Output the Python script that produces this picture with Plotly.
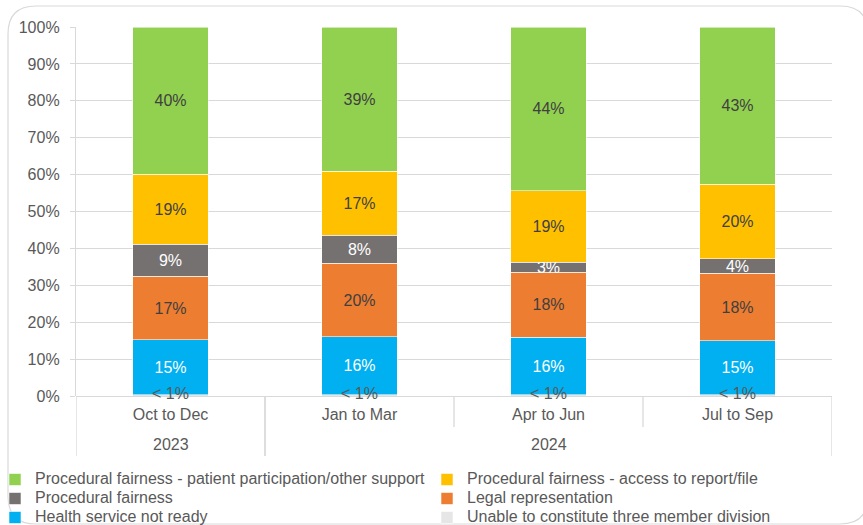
import plotly.graph_objects as go

years = ["2023", "2024", "2024", "2024"]
quarters = ["Oct to Dec", "Jan to Mar", "Apr to Jun", "Jul to Sep"]

unable = [0.3, 0.4, 0.3, 0.3]
health_not_ready = [14.9, 15.6, 15.6, 14.7]
legal_rep = [17.2, 20.0, 17.7, 18.2]
proc_fair = [8.7, 7.6, 2.7, 4.0]
proc_access = [19.0, 17.3, 19.3, 20.2]
proc_patient = [39.9, 39.1, 44.4, 42.6]
unable_label = ["< 1%", "< 1%", "< 1%", "< 1%"]

y_ticks = [0, 10, 20, 30, 40, 50, 60, 70, 80, 90, 100]
y_ticktext = [f"{v}%" for v in y_ticks]

FONT = "Liberation Sans, Arial, sans-serif"
GRID = "#d9d9d9"
TXT = "#595959"
DARK = "#404040"

series = [
    ("Unable to constitute three member division", unable, "#E7E6E6", None, "legend2"),
    ("Health service not ready", health_not_ready, "#00B0F0", "white", "legend"),
    ("Legal representation", legal_rep, "#ED7D31", DARK, "legend2"),
    ("Procedural fairness", proc_fair, "#767171", "white", "legend"),
    ("Procedural fairness - access to report/file", proc_access, "#FFC000", DARK, "legend2"),
    ("Procedural fairness - patient participation/other support", proc_patient, "#92D050", DARK, "legend"),
]

fig = go.Figure()
for name, vals, color, tcol, leg in series:
    kw = {}
    if tcol is not None:
        kw = dict(texttemplate="%{y:.0f}%", textposition="inside",
                  insidetextanchor="middle",
                  textfont=dict(color=tcol, size=16, family=FONT))
    fig.add_trace(go.Bar(
        x=quarters, y=vals,
        name=f"<span style='font-size:16px'>{name}</span>", legend=leg,
        marker=dict(color=color, line=dict(color="rgba(255,255,255,0.7)", width=0.8)),
        hoverinfo="skip", **kw))

fig.add_trace(go.Scatter(
    x=quarters, y=[v / 2 for v in unable], text=unable_label, mode="text",
    textposition="middle center", textfont=dict(color=TXT, size=16, family=FONT),
    showlegend=False, hoverinfo="skip", cliponaxis=False))

# plot area geometry (px)
L, R, T, B = 76, 31, 27, 129
W, H = 863, 525
pw, ph = W - L - R, H - T - B

def px(xp):
    return (xp - L) / pw

def py(yp):
    return (H - B - yp) / ph

# rounded chart border
x0, x1, y0, y1, r = 8, 868, 6, 524, 28
rx, ry = r / pw, r / ph
path = (f"M{px(x0)},{py(y0) - ry} Q{px(x0)},{py(y0)} {px(x0) + rx},{py(y0)} "
        f"L{px(x1) - rx},{py(y0)} Q{px(x1)},{py(y0)} {px(x1)},{py(y0) - ry} "
        f"L{px(x1)},{py(y1) + ry} Q{px(x1)},{py(y1)} {px(x1) - rx},{py(y1)} "
        f"L{px(x0) + rx},{py(y1)} Q{px(x0)},{py(y1)} {px(x0)},{py(y1) + ry} Z")
shapes = [dict(type="path", xref="paper", yref="paper", path=path,
               line=dict(color=GRID, width=1.2), layer="below")]

# year groups: labels centred under each group, dividers at group edges,
# short separators between quarters inside a group
annotations = []
groups = []
for i, yr in enumerate(years):
    if groups and groups[-1][0] == yr:
        groups[-1][1].append(i)
    else:
        groups.append((yr, [i]))
for yr, idx in groups:
    centre = sum(idx) / len(idx)
    annotations.append(dict(x=centre, xref="x", y=py(444), yref="paper", text=yr,
                            showarrow=False, yanchor="middle",
                            font=dict(size=16, color=TXT, family=FONT)))
    for b in (idx[0] - 0.5, idx[-1] + 0.5):
        shapes.append(dict(type="line", xref="x", yref="paper", x0=b, x1=b,
                           y0=0, y1=py(456), line=dict(color=GRID, width=1.3)))
    for b in idx[:-1]:
        shapes.append(dict(type="line", xref="x", yref="paper", x0=b + 0.5, x1=b + 0.5,
                           y0=0, y1=py(427), line=dict(color=GRID, width=1.3)))

fig.update_layout(
    width=W, height=H,
    margin=dict(l=L, r=R, t=T, b=B, autoexpand=False),
    paper_bgcolor="white", plot_bgcolor="white",
    barmode="stack", bargap=0.6,
    font=dict(family=FONT, size=16, color=TXT),
    uniformtext=dict(minsize=16, mode="show"),
    shapes=shapes, annotations=annotations,
    xaxis=dict(
        type="category", showgrid=False, ticks="", showline=False,
        range=[-0.5, len(quarters) - 0.5],
        ticklabelstandoff=7,
        tickfont=dict(size=16, color=TXT, family=FONT),
    ),
    yaxis=dict(
        range=[0, 100], tickmode="array", tickvals=y_ticks, ticktext=y_ticktext,
        showgrid=True, gridcolor=GRID, gridwidth=1.3,
        zeroline=True, zerolinecolor=GRID, zerolinewidth=1.3,
        showline=True, linecolor=GRID, linewidth=1.3,
        ticks="outside", ticklen=5, tickcolor=GRID, tickwidth=1.3,
        ticklabelstandoff=7,
        tickfont=dict(size=16, color=TXT, family=FONT),
    ),
    legend=dict(x=px(-5), y=py(465), xanchor="left", yanchor="top",
                orientation="v", traceorder="reversed",
                font=dict(size=12, color=TXT, family=FONT), bgcolor="rgba(0,0,0,0)"),
    legend2=dict(x=px(427), y=py(465), xanchor="left", yanchor="top",
                 orientation="v", traceorder="reversed",
                 font=dict(size=12, color=TXT, family=FONT), bgcolor="rgba(0,0,0,0)"),
)

fig.write_html("out.html", config={"displayModeBar": False},
               post_script="document.body.style.margin='0';")
